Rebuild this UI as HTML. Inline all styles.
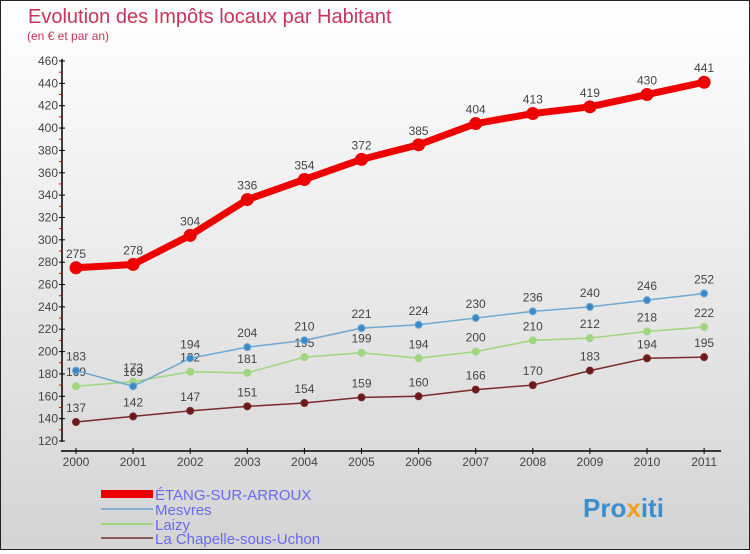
<!DOCTYPE html>
<html><head><meta charset="utf-8"><style>
body{margin:0}
#c{width:748px;height:548px;border:1px solid #222;background:linear-gradient(#fff,#d4d4d4);position:relative;font-family:"Liberation Sans",sans-serif}
svg text{font-family:"Liberation Sans",sans-serif}
</style></head><body>
<div id="c">
<svg id="s" width="748" height="548">
<text x="27" y="22" font-size="20" fill="#c8345a">Evolution des Impôts locaux par Habitant</text>
<text x="26" y="39" font-size="12" fill="#c8345a">(en € et par an)</text>
<g id="g"></g>
<g>
<rect x="100" y="489" width="52" height="8" fill="#e00"/>
<text x="154" y="499" font-size="15" fill="#6a6aee">ÉTANG-SUR-ARROUX</text>
<rect x="100" y="507" width="52" height="2" fill="#7fb0d3"/>
<text x="154" y="514" font-size="15" fill="#6a6aee">Mesvres</text>
<rect x="100" y="522" width="52" height="2" fill="#9fd67f"/>
<text x="154" y="529" font-size="15" fill="#6a6aee">Laizy</text>
<rect x="100" y="536" width="52" height="2" fill="#8c5a5a"/>
<text x="154" y="543" font-size="15" fill="#6a6aee">La Chapelle-sous-Uchon</text>
</g>
<text x="582" y="516" font-size="26" font-weight="bold" fill="#3a8fd0">Pro<tspan fill="#f0a020">x</tspan>iti</text>
</svg>
</div>
<script>
const years=[2000,2001,2002,2003,2004,2005,2006,2007,2008,2009,2010,2011];
const etang=[275,278,304,336,354,372,385,404,413,419,430,441];
const mesvres=[183,169,194,204,210,221,224,230,236,240,246,252];
const laizy=[169,173,182,181,195,199,194,200,210,212,218,222];
const chapelle=[137,142,147,151,154,159,160,166,170,183,194,195];
const yTicks=[120,140,160,180,200,220,240,260,280,300,320,340,360,380,400,420,440,460];
const NS="http://www.w3.org/2000/svg";
const g=document.getElementById('g');
const X=i=>75+i*57.1;
const Y=v=>440-(v-120)*380/340;
function el(t,a){const e=document.createElementNS(NS,t);for(const k in a)e.setAttribute(k,a[k]);g.appendChild(e);return e;}
let e=el('line',{x1:61,y1:58,x2:61,y2:441,stroke:'#000','stroke-width':1.5});


e=el('line',{x1:60,y1:450,x2:720,y2:450,stroke:'#000','stroke-width':1.5});


yTicks.forEach((v,i)=>{
 let t=el('line',{x1:58,x2:64,y1:Y(v),y2:Y(v),stroke:'#000'});
 
 
 if(i<yTicks.length-1){let m=el('line',{x1:58,x2:61,y1:Y(v+10),y2:Y(v+10),stroke:'#e00'});
 
 }
 let l=el('text',{x:57,y:Y(v)+4,'font-size':12,'text-anchor':'end',fill:'#444'});l.textContent=v;
 
 
});
years.forEach((y,i)=>{
 let t=el('line',{x1:X(i),x2:X(i),y1:447,y2:453,stroke:'#000'});
 
 
 let l=el('text',{x:X(i),y:465,'font-size':12,'text-anchor':'middle',fill:'#444'});l.textContent=y;
 
 
});
function series(d,col,w,r,name,fill){
 let p=el('polyline',{points:d.map((v,i)=>X(i)+','+Y(v)).join(' '),fill:'none',stroke:col,'stroke-width':w});
 
 
 d.forEach((v,i)=>{
  let c=el('circle',{cx:X(i),cy:Y(v),r:r,fill:fill,stroke:col});
  
  
  let t=el('text',{x:X(i),y:Y(v)-10,'font-size':12,'text-anchor':'middle',fill:'#444'});t.textContent=v;
  
  
 });
}
series(chapelle,'#7a2a2a',1.5,3.5,'chapelle','#6a1a1a');
series(laizy,'#9fd67f',1.5,3.5,'laizy','#9fd67f');
series(mesvres,'#6fa8d0',1.5,3.5,'mesvres','#3a88c8');
series(etang,'#e00',7,6,'etang','#e00');
</script>
</body></html>
